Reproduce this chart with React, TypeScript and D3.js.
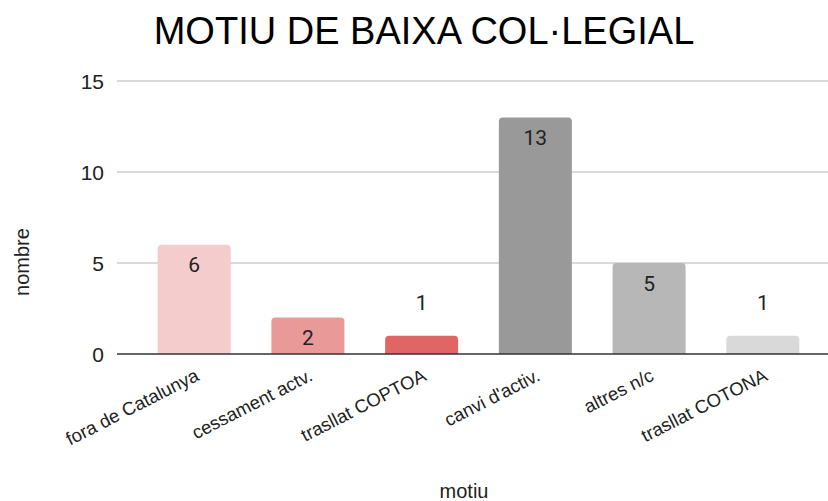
import React from "react";
import * as d3 from "d3";

const categories = ["fora de Catalunya", "cessament actv.", "trasllat COPTOA", "canvi d'activ.", "altres n/c", "trasllat COTONA"];
const values = [6, 2, 1, 13, 5, 1];
const colors = ["#f4cccc", "#ea9999", "#e06666", "#999999", "#b7b7b7", "#d9d9d9"];
const yTicks = [0, 5, 10, 15];
const title = "MOTIU DE BAIXA COL·LEGIAL";
const xTitle = "motiu";
const yTitle = "nombre";

const W = 828;
const H = 501;
const FONT = "'Liberation Sans', Arial, sans-serif";

export default function App() {
  const x = d3.scaleBand<string>().domain(categories).range([123, 834]).paddingInner(0.358).paddingOuter(0.305);
  const y = d3.scaleLinear().domain([0, 15]).range([354, 81]);
  const r = 4;

  const barPath = (x0: number, w: number, y0: number, y1: number) => {
    const p = d3.path();
    p.moveTo(x0, y1);
    p.lineTo(x0, y0 + r);
    p.quadraticCurveTo(x0, y0, x0 + r, y0);
    p.lineTo(x0 + w - r, y0);
    p.quadraticCurveTo(x0 + w, y0, x0 + w, y0 + r);
    p.lineTo(x0 + w, y1);
    p.closePath();
    return p.toString();
  };

  return (
    <svg width={W} height={H} style={{ position: "absolute", left: 0, top: 0, background: "#fff" }} fontFamily={FONT}>
      <rect x={0} y={0} width={W} height={H} fill="#fff" />
      <text x={424} y={44} textAnchor="middle" fontSize={38} fill="#000">{title}</text>
      {yTicks.map((t) => (
        <g key={t}>
          {t !== 0 && <line x1={117} x2={828} y1={y(t)} y2={y(t)} stroke="#cccccc" strokeWidth={1.3} />}
          <text x={104} y={y(t)} dy="0.36em" textAnchor="end" fontSize={21} fill="#222">{t}</text>
        </g>
      ))}
      {categories.map((c, i) => {
        const x0 = x(c)!;
        const w = x.bandwidth();
        const top = y(values[i]);
        const inside = values[i] >= 2;
        return (
          <g key={c}>
            <path d={barPath(x0, w, top, y(0))} fill={colors[i]} />
            <text
              x={x0 + w / 2}
              y={inside ? top + 27.5 : top - 26}
              textAnchor="middle"
              fontSize={21}
              fill="#222"
              fontFamily="Roboto, sans-serif"
            >
              {values[i]}
            </text>
          </g>
        );
      })}
      <line x1={117} x2={828} y1={y(0)} y2={y(0)} stroke="#333" strokeWidth={1.5} />
      {categories.map((c) => {
        const cx = x(c)! + x.bandwidth() / 2;
        const cy = 368;
        return (
          <text
            key={c}
            transform={`translate(${cx},${cy}) rotate(-27)`}
            textAnchor="end"
            dy="0.7em"
            fontSize={18.5}
            fill="#222"
          >
            {c}
          </text>
        );
      })}
      <text x={464} y={498} textAnchor="middle" fontSize={20} fill="#222">{xTitle}</text>
      <text transform={`translate(29,262) rotate(-90)`} textAnchor="middle" fontSize={20} fill="#222">{yTitle}</text>
    </svg>
  );
}
